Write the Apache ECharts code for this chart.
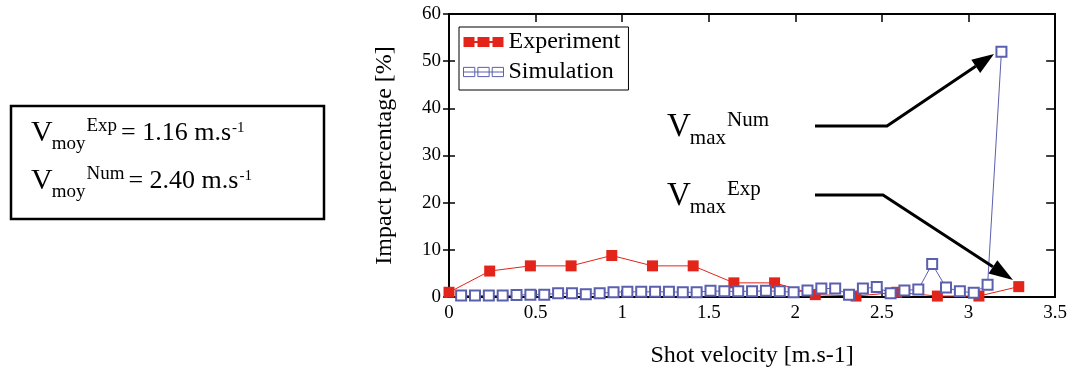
<!DOCTYPE html>
<html>
<head>
<meta charset="utf-8">
<script src="https://cdn.jsdelivr.net/npm/echarts@6/dist/echarts.min.js"></script>
<style>
html,body{margin:0;padding:0;background:#fff;}
#c{width:1070px;height:377px;}
</style>
</head>
<body>
<div id="c"></div>
<script>
// ---- data ----
const expX = [0, 0.235, 0.47, 0.705, 0.94, 1.175, 1.41, 1.645, 1.88, 2.115, 2.35, 2.585, 2.82, 3.06, 3.29];
const expY = [1.0, 5.5, 6.6, 6.6, 8.8, 6.6, 6.6, 3.0, 3.0, 0.5, 0.2, 1.0, 0.2, 0.2, 2.2];

const simX = [0.07, 0.15, 0.23, 0.31, 0.39, 0.47, 0.55, 0.63, 0.71, 0.79,
              0.87, 0.95, 1.03, 1.11, 1.19, 1.27, 1.35, 1.43, 1.51, 1.59,
              1.67, 1.75, 1.83, 1.91, 1.99, 2.07, 2.15, 2.23, 2.31, 2.39,
              2.47, 2.55, 2.63, 2.71, 2.79, 2.87, 2.95, 3.03, 3.11, 3.19];
const simY = [0.3, 0.3, 0.3, 0.3, 0.4, 0.5, 0.5, 0.8, 0.8, 0.6,
              0.8, 1.0, 1.1, 1.1, 1.1, 1.1, 1.0, 1.0, 1.3, 1.2,
              1.2, 1.2, 1.3, 1.2, 1.0, 1.4, 1.8, 1.8, 0.5, 1.8,
              2.1, 0.8, 1.4, 1.6, 7.0, 2.0, 1.2, 0.9, 2.6, 52.0];

const xTicks = {min: 0, max: 3.5, interval: 0.5};
const yTicks = {min: 0, max: 60, interval: 10};
const seriesNames = ['Experiment', 'Simulation'];
const xName = 'Shot velocity [m.s-1]';
const yName = 'Impact percentage [%]';

const RED = '#e3241b';
const BLUE = '#5a5fae';
const FONT = "'Liberation Serif', 'Times New Roman', serif";

const chart = echarts.init(document.getElementById('c'), null, {renderer: 'canvas'});

const mctx = document.createElement('canvas').getContext('2d');
function measure(text, size) {
  mctx.font = size + 'px ' + FONT;
  return mctx.measureText(text).width;
}

function txt(text, x, baseline, size) {
  return {
    type: 'text', z: 100,
    style: {
      text: text, x: x, y: baseline - 0.33 * size,
      font: size + 'px ' + FONT, fill: '#000',
      textAlign: 'left', textVerticalAlign: 'middle'
    }
  };
}

// one formula line: V_sub^sup = value m.s^-1
function formula(x0, baseline, vSize, sub, sup, subSize, rest, restSize, restX) {
  const out = [];
  out.push(txt('V', x0, baseline + 1, vSize));
  const sx = x0 + measure('V', vSize) - 1;
  out.push(txt(sub, sx, baseline + 8, subSize));
  const px = sx + measure(sub, subSize) + 1;
  out.push(txt(sup, px, baseline - 10, subSize));
  if (rest) {
    const rx = restX != null ? restX : px + measure(sup, subSize) + 4;
    out.push(txt(rest, rx, baseline, restSize));
    out.push(txt('-1', rx + measure(rest, restSize) + 1, baseline - 9, 15));
  }
  return out;
}

function arrow(points, tip, len, half) {
  const p = points[points.length - 1];
  const dx = tip[0] - p[0], dy = tip[1] - p[1];
  const L = Math.sqrt(dx * dx + dy * dy);
  const ux = dx / L, uy = dy / L;
  const bx = tip[0] - len * ux, by = tip[1] - len * uy;
  const px = -uy * half, py = ux * half;
  return [
    {type: 'polyline', z: 90, shape: {points: points.concat([[bx, by]])},
     style: {stroke: '#000', lineWidth: 3, fill: null}},
    {type: 'polygon', z: 90, shape: {points: [tip, [bx + px, by + py], [bx - px, by - py]]},
     style: {fill: '#000'}}
  ];
}

const graphics = [
  {type: 'rect', z: 100, shape: {x: 11, y: 106, width: 313, height: 113},
   style: {fill: 'none', stroke: '#000', lineWidth: 2.5}}
]
  .concat(formula(31, 142, 30, 'moy', 'Exp', 19, '= 1.16 m.s', 26))
  .concat(formula(31, 190, 30, 'moy', 'Num', 19, '= 2.40 m.s', 26))
  .concat(formula(667, 137, 33, 'max', 'Num', 21, null))
  .concat(formula(667, 206, 33, 'max', 'Exp', 21, null))
  .concat(arrow([[815, 126], [887, 126]], [994, 54], 22, 8))
  .concat(arrow([[815, 195], [883, 195]], [1013, 280], 24, 8));

const option = {
  backgroundColor: '#fff',
  animation: false,
  textStyle: {fontFamily: FONT},
  grid: {left: 449, right: 14, top: 14, bottom: 80, containLabel: false},
  legend: {
    left: 459, top: 27, orient: 'vertical',
    backgroundColor: '#fff', borderColor: '#000', borderWidth: 1,
    padding: [3, 8, 6, 4], itemGap: 6, itemWidth: 40, itemHeight: 10,
    textStyle: {fontFamily: FONT, fontSize: 24, color: '#000', lineHeight: 24},
    data: [
      {name: seriesNames[0],
       icon: 'path://M0,0H11V10H0Z M14,0H26V10H14Z M29,0H40V10H29Z M11,4H14V6H11Z M26,4H29V6H26Z',
       itemStyle: {color: RED, borderWidth: 0}},
      {name: seriesNames[1],
       icon: 'path://M0.5,0.5H11.5V9.5H0.5Z M14.5,0.5H25.5V9.5H14.5Z M28.5,0.5H39.5V9.5H28.5Z M0.5,5H39.5',
       itemStyle: {color: '#fff', borderColor: BLUE, borderWidth: 1}}
    ]
  },
  xAxis: [
    {type: 'value', position: 'bottom', min: xTicks.min, max: xTicks.max, interval: xTicks.interval,
     name: xName, nameLocation: 'middle', nameGap: 47,
     nameTextStyle: {fontFamily: FONT, fontSize: 24, color: '#000'},
     axisLine: {onZero: false, lineStyle: {color: '#000', width: 2}},
     axisTick: {inside: true, length: 7, lineStyle: {color: '#000', width: 1.5}},
     axisLabel: {fontFamily: FONT, fontSize: 19, color: '#000', margin: 7},
     splitLine: {show: false}},
    {type: 'value', position: 'top', min: xTicks.min, max: xTicks.max, interval: xTicks.interval,
     axisLine: {onZero: false, lineStyle: {color: '#000', width: 2}},
     axisTick: {inside: true, length: 8, lineStyle: {color: '#000', width: 1.5}},
     axisLabel: {show: false}, splitLine: {show: false}}
  ],
  yAxis: [
    {type: 'value', position: 'left', min: yTicks.min, max: yTicks.max, interval: yTicks.interval,
     name: yName, nameLocation: 'middle', nameGap: 52,
     nameTextStyle: {fontFamily: FONT, fontSize: 24, color: '#000'},
     axisLine: {onZero: false, lineStyle: {color: '#000', width: 2}},
     axisTick: {inside: false, length: 6, lineStyle: {color: '#000', width: 1.5}},
     axisLabel: {fontFamily: FONT, fontSize: 19, color: '#000', margin: 8},
     splitLine: {show: false}},
    {type: 'value', position: 'right', min: yTicks.min, max: yTicks.max, interval: yTicks.interval,
     axisLine: {onZero: false, lineStyle: {color: '#000', width: 2}},
     axisTick: {inside: true, length: 9, lineStyle: {color: '#000', width: 1.5}},
     axisLabel: {show: false}, splitLine: {show: false}},
    {type: 'value', position: 'left', min: yTicks.min, max: yTicks.max, interval: yTicks.interval,
     axisLine: {show: false},
     axisTick: {inside: true, length: 6, lineStyle: {color: '#000', width: 1.5}},
     axisLabel: {show: false}, splitLine: {show: false}}
  ],
  series: [
    {name: seriesNames[0], type: 'line', xAxisIndex: 0, yAxisIndex: 0,
     data: expX.map((x, i) => [x, expY[i]]),
     symbol: 'rect', symbolSize: 11, showAllSymbol: true,
     lineStyle: {color: RED, width: 1}, itemStyle: {color: RED}, z: 3},
    {name: seriesNames[1], type: 'line', xAxisIndex: 0, yAxisIndex: 0,
     data: simX.map((x, i) => [x, simY[i]]),
     symbol: 'emptyRect', symbolSize: 10, showAllSymbol: true,
     lineStyle: {color: BLUE, width: 1}, itemStyle: {color: BLUE, borderWidth: 1}, z: 4}
  ],
  graphic: graphics
};
chart.setOption(option);
</script>
</body>
</html>
